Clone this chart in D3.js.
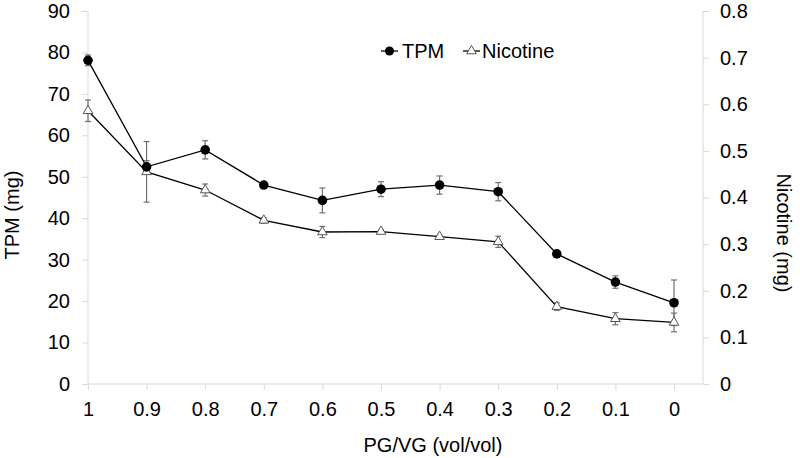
<!DOCTYPE html>
<html><head><meta charset="utf-8">
<script src="https://cdn.jsdelivr.net/npm/d3@7"></script>
<style>body{margin:0;background:#fff}svg{display:block}text{font-family:"Liberation Sans",Arial,sans-serif}</style>
</head><body><svg id="c" width="800" height="458"></svg>
<script>
const categories = ["1","0.9","0.8","0.7","0.6","0.5","0.4","0.3","0.2","0.1","0"];
const tpm = [78.1, 52.4, 56.5, 48.0, 44.3, 47.0, 48.0, 46.4, 31.4, 24.6, 19.6];
const tpmErr = [1.3, 1.5, 2.2, 0.5, 3.0, 1.8, 2.2, 2.2, 0.4, 1.5, 5.5];
const nicotine = [0.586, 0.455, 0.416, 0.351, 0.326, 0.327, 0.316, 0.305, 0.166, 0.140, 0.132];
const nicErr = [0.023, 0.065, 0.013, 0.006, 0.012, 0.004, 0.003, 0.012, 0.008, 0.013, 0.020];
const leftTicks = [0,10,20,30,40,50,60,70,80,90];
const rightTicks = [0,0.1,0.2,0.3,0.4,0.5,0.6,0.7,0.8];

const svg = d3.select("#c");
const L = 88, R = 703, T = 11, B = 384;
const FS = 20;
const x = d3.scalePoint().domain(categories).range([L, 674]);
const yL = d3.scaleLinear().domain([0, 90]).range([B, T]);
const yR = d3.scaleLinear().domain([0, 0.8]).range([B, T]);
const axisCol = "#d9d9d9";

// axes
const gL = svg.append("g").attr("transform", `translate(${L},0)`)
  .call(d3.axisLeft(yL).tickValues(leftTicks).tickSize(6).tickPadding(12).tickFormat(d3.format("d")));
const gR = svg.append("g").attr("transform", `translate(${R},0)`)
  .call(d3.axisRight(yR).tickValues(rightTicks).tickSize(6).tickPadding(11).tickFormat(d => d === 0 ? "0" : d3.format(".1f")(d)));
const gB = svg.append("g").attr("transform", `translate(0,${B})`)
  .call(d3.axisBottom(x).tickSize(6).tickPadding(12));
[gL, gR, gB].forEach(g => {
  g.selectAll("path").remove();
  g.selectAll("line").attr("stroke", axisCol);
  g.selectAll("text").attr("font-size", FS).attr("fill", "#000");
});
svg.append("line").attr("x1", L).attr("x2", R).attr("y1", B).attr("y2", B).attr("stroke", axisCol);
svg.append("line").attr("x1", L).attr("x2", L).attr("y1", T).attr("y2", B).attr("stroke", axisCol);
svg.append("line").attr("x1", R).attr("x2", R).attr("y1", T).attr("y2", B).attr("stroke", axisCol);

// titles
svg.append("text").attr("transform", `translate(19,215) rotate(-90)`).attr("text-anchor","middle").attr("font-size",FS).text("TPM (mg)");
svg.append("text").attr("transform", `translate(777,233) rotate(90)`).attr("text-anchor","middle").attr("font-size",FS).text("Nicotine (mg)");
svg.append("text").attr("x", 433).attr("y", 452).attr("text-anchor","middle").attr("font-size",FS).text("PG/VG (vol/vol)");

const errCol = "#707070";
function errorBars(vals, errs, y) {
  const g = svg.append("g").attr("stroke", errCol).attr("stroke-width", 1.2);
  vals.forEach((v, i) => {
    const cx = x(categories[i]);
    const y1 = y(v + errs[i]), y2 = y(v - errs[i]);
    g.append("line").attr("x1", cx).attr("x2", cx).attr("y1", y1).attr("y2", y2);
    g.append("line").attr("x1", cx-3).attr("x2", cx+3).attr("y1", y1).attr("y2", y1);
    g.append("line").attr("x1", cx-3).attr("x2", cx+3).attr("y1", y2).attr("y2", y2);
  });
}
errorBars(nicotine, nicErr, yR);
errorBars(tpm, tpmErr, yL);

const lineL = d3.line().x((d, i) => x(categories[i])).y(d => yL(d));
const lineR = d3.line().x((d, i) => x(categories[i])).y(d => yR(d));
svg.append("path").attr("d", lineR(nicotine)).attr("fill","none").attr("stroke","#000").attr("stroke-width",1.3);
svg.append("path").attr("d", lineL(tpm)).attr("fill","none").attr("stroke","#000").attr("stroke-width",1.3);

const tri = d3.symbol().type(d3.symbolTriangle).size(40);
svg.append("g").selectAll("path").data(nicotine).join("path")
  .attr("d", tri).attr("transform", (d, i) => `translate(${x(categories[i])},${yR(d)})`)
  .attr("fill", "#fff").attr("stroke", "#555").attr("stroke-width", 1);
svg.append("g").selectAll("circle").data(tpm).join("circle")
  .attr("cx", (d, i) => x(categories[i])).attr("cy", d => yL(d)).attr("r", 4.8).attr("fill", "#000");

// legend
const lg = svg.append("g");
lg.append("line").attr("x1",381).attr("x2",398).attr("y1",51).attr("y2",51).attr("stroke","#000").attr("stroke-width",1.3);
lg.append("circle").attr("cx",389.5).attr("cy",51).attr("r",4.5).attr("fill","#000");
lg.append("text").attr("x",402).attr("y",58).attr("font-size",FS).text("TPM");
lg.append("line").attr("x1",463).attr("x2",480).attr("y1",51).attr("y2",51).attr("stroke","#000").attr("stroke-width",1.3);
lg.append("path").attr("d", tri).attr("transform","translate(471.5,51)").attr("fill","#fff").attr("stroke","#555");
lg.append("text").attr("x",482).attr("y",58).attr("font-size",FS).text("Nicotine");
</script></body></html>
